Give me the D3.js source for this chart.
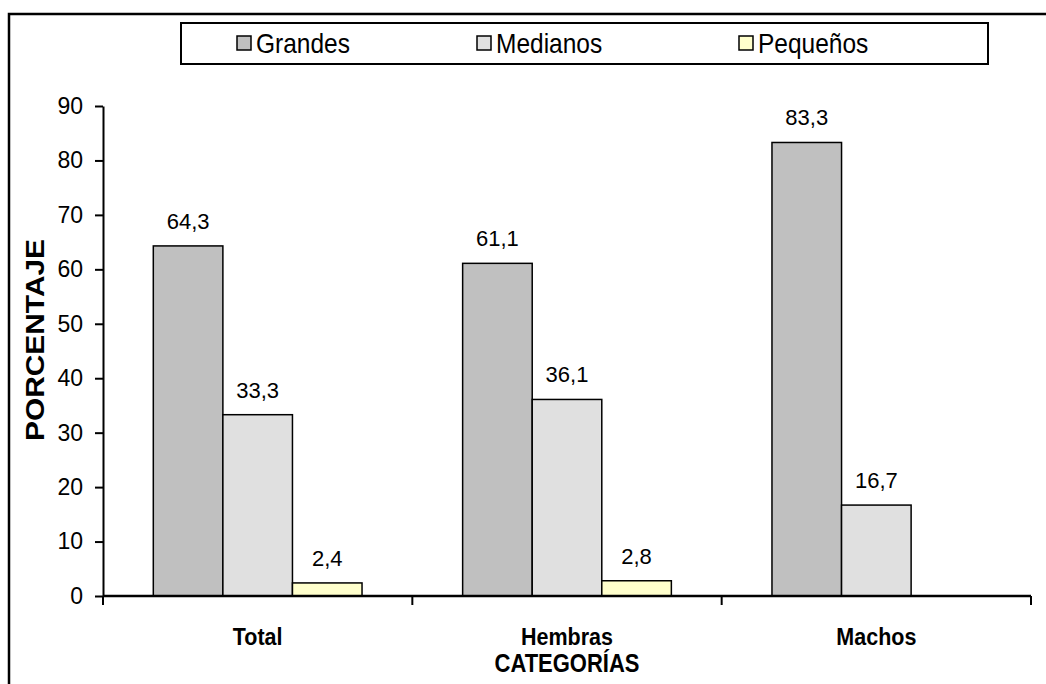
<!DOCTYPE html>
<html>
<head>
<meta charset="utf-8">
<script src="https://cdn.jsdelivr.net/npm/d3@7"></script>
<style>
  html, body { margin: 0; padding: 0; background: #fff; }
  svg { display: block; font-family: "Liberation Sans", Arial, sans-serif; }
</style>
</head>
<body>
<svg id="chart" width="1046" height="684"></svg>
<script>
// Categories along the x axis and one value list per series
const categories = ["Total", "Hembras", "Machos"];
const seriesNames = ["Grandes", "Medianos", "Pequeños"];
const grandes = [64.3, 61.1, 83.3];
const medianos = [33.3, 36.1, 16.7];
const pequenos = [2.4, 2.8, null];
const yTicks = [0, 10, 20, 30, 40, 50, 60, 70, 80, 90];
const seriesColors = ["#C0C0C0", "#E0E0E0", "#FFFFCC"];

const seriesValues = [grandes, medianos, pequenos];

const svg = d3.select("#chart");
const W = 1046, H = 684;
const plot = { left: 103, right: 1031, top: 106, bottom: 596 };
const TALL = 1.15; // slightly tall lettering used for labels

// Outer chart frame (left and top edges)
svg.append("path")
  .attr("d", `M9,${H} V14 H${W}`)
  .attr("fill", "none").attr("stroke", "#000").attr("stroke-width", 2.5);

const x0 = d3.scaleBand().domain(categories).range([plot.left, plot.right]).padding(0);
const groupPad = x0.bandwidth() * 100.5 / 309 / 2;
const x1 = d3.scaleBand().domain(seriesNames).range([groupPad, x0.bandwidth() - groupPad]).padding(0);
const y = d3.scaleLinear().domain([0, 90]).range([plot.bottom, plot.top]);

// Bars
const rows = [];
categories.forEach((c, ci) => {
  seriesNames.forEach((s, si) => {
    const v = seriesValues[si][ci];
    if (v !== null && v !== undefined) rows.push({ c, s, si, v });
  });
});

const g = svg.append("g");
g.selectAll("rect.bar").data(rows).join("rect")
  .attr("class", "bar")
  .attr("x", d => x0(d.c) + x1(d.s))
  .attr("y", d => y(d.v))
  .attr("width", x1.bandwidth())
  .attr("height", d => y(0) - y(d.v))
  .attr("fill", d => seriesColors[d.si])
  .attr("stroke", "#000").attr("stroke-width", 1.5);

// Value labels
const fmt = v => String(v).replace(".", ",");
g.selectAll("text.val").data(rows).join("text")
  .attr("class", "val")
  .attr("x", d => x0(d.c) + x1(d.s) + x1.bandwidth() / 2)
  .attr("y", d => y(d.v) - 17)
  .attr("text-anchor", "middle")
  .attr("font-size", 22)
  .attr("fill", "#000")
  .text(d => fmt(d.v));

// Y axis
const yAxis = d3.axisLeft(y).tickValues(yTicks).tickSize(8).tickSizeOuter(0).tickPadding(12);
const ya = svg.append("g").attr("transform", `translate(${plot.left},0)`).call(yAxis);
ya.select(".domain").attr("stroke", "#000").attr("stroke-width", 2);
ya.selectAll(".tick line").attr("stroke", "#000").attr("stroke-width", 2);
ya.selectAll(".tick text").attr("font-size", 23).attr("fill", "#000")
  .attr("font-family", "Liberation Sans, Arial, sans-serif");

// X axis: tick marks at category boundaries
const xAxis = d3.axisBottom(x0).tickSize(0).tickFormat("");
const xa = svg.append("g").attr("transform", `translate(0,${plot.bottom})`).call(xAxis);
xa.select(".domain").attr("stroke", "#000").attr("stroke-width", 2.5)
  .attr("d", `M${plot.left},0H${plot.right}`);
xa.selectAll(".tick").remove();
const bounds = [plot.left].concat(categories.map(c => x0(c) + x0.bandwidth()));
xa.selectAll("line.bnd").data(bounds).join("line")
  .attr("class", "bnd")
  .attr("x1", d => d).attr("x2", d => d)
  .attr("y1", 0).attr("y2", 9)
  .attr("stroke", "#000").attr("stroke-width", 2);

// Category labels
svg.selectAll("text.cat").data(categories).join("text")
  .attr("class", "cat")
  .attr("transform", d => `translate(${x0(d) + x0.bandwidth() / 2},645) scale(1,${TALL})`)
  .attr("text-anchor", "middle")
  .attr("font-size", 21.5).attr("font-weight", "bold")
  .text(d => d);

// Axis titles
svg.append("text")
  .attr("transform", `translate(${(plot.left + plot.right) / 2},672) scale(1,${TALL})`)
  .attr("text-anchor", "middle")
  .attr("font-size", 22).attr("font-weight", "bold")
  .text("CATEGORÍAS");

svg.append("text")
  .attr("transform", `translate(44,340) rotate(-90) scale(1.15,1)`)
  .attr("text-anchor", "middle")
  .attr("font-size", 26).attr("font-weight", "bold")
  .text("PORCENTAJE");

// Legend
const legend = svg.append("g");
legend.append("rect")
  .attr("x", 181).attr("y", 23).attr("width", 807).attr("height", 41)
  .attr("fill", "#fff").attr("stroke", "#000").attr("stroke-width", 2);
const legendX = [237, 477, 739];
const items = legend.selectAll("g.item").data(seriesNames).join("g")
  .attr("class", "item")
  .attr("transform", (d, i) => `translate(${legendX[i]},36)`);
items.append("rect")
  .attr("x", 0).attr("y", 0).attr("width", 14).attr("height", 14)
  .attr("fill", (d, i) => seriesColors[i])
  .attr("stroke", "#000").attr("stroke-width", 1.5);
items.append("text")
  .attr("transform", `translate(19,17) scale(1,${TALL})`)
  .attr("font-size", 24.5)
  .text(d => d);
</script>
</body>
</html>
